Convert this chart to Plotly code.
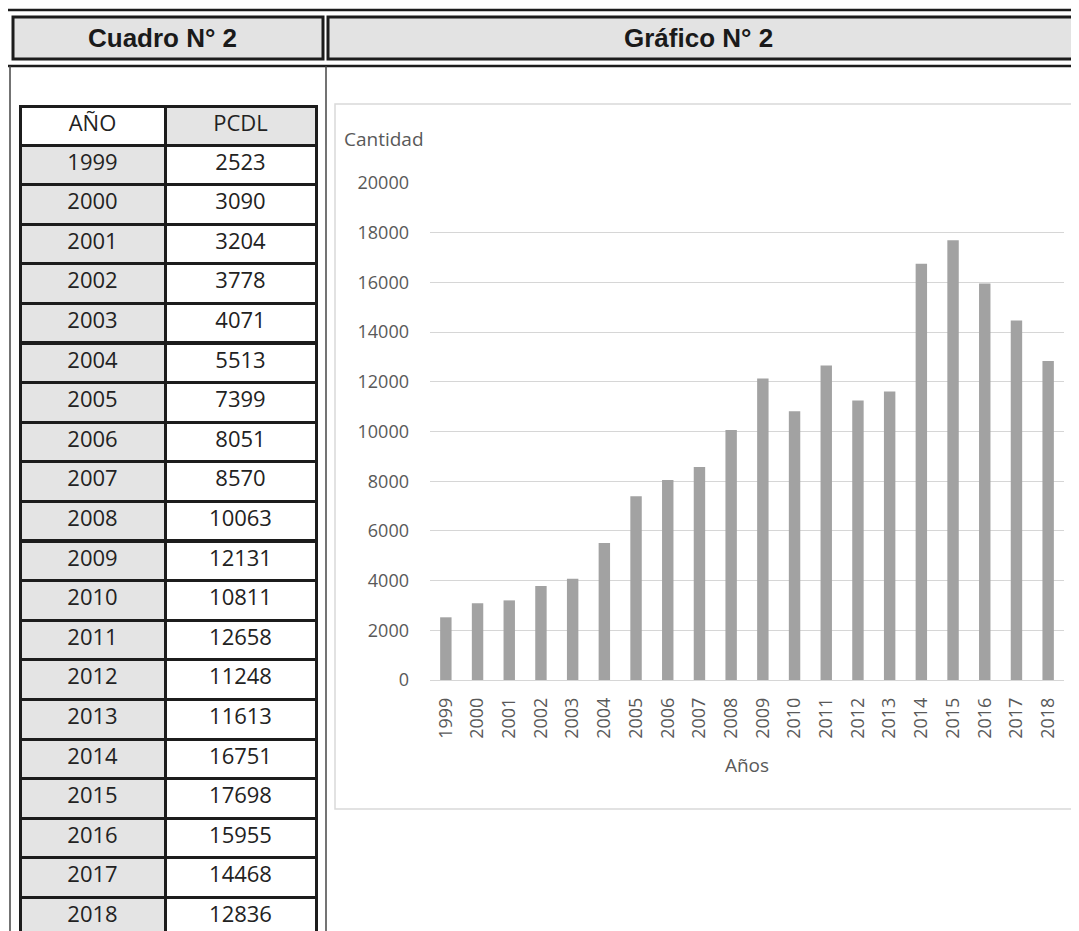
import plotly.graph_objects as go

# ---- data ----
years = ["1999", "2000", "2001", "2002", "2003", "2004", "2005", "2006", "2007", "2008",
         "2009", "2010", "2011", "2012", "2013", "2014", "2015", "2016", "2017", "2018"]
pcdl = [2523, 3090, 3204, 3778, 4071, 5513, 7399, 8051, 8570, 10063,
        12131, 10811, 12658, 11248, 11613, 16751, 17698, 15955, 14468, 12836]
table_headers = ["AÑO", "PCDL"]
y_ticks = [0, 2000, 4000, 6000, 8000, 10000, 12000, 14000, 16000, 18000, 20000]
left_title = "Cuadro N° 2"
right_title = "Gráfico N° 2"
y_title = "Cantidad"
x_title = "Años"

W, H = 1079, 931
OFF = 8  # page body margin


def px(x):
    return (x - OFF) / W


def py(y):
    return 1 - (y - OFF) / H


BLACK = "#1c1c1c"
GRAY_FILL = "#e4e4e4"
TXT_GRAY = "#595959"

fig = go.Figure()

# ---- table ----
fig.add_trace(go.Table(
    domain=dict(x=[px(20), px(316)], y=[0, py(106)]),
    columnwidth=[145, 151],
    header=dict(
        values=table_headers,
        fill_color=[["white"], [GRAY_FILL]],
        line=dict(color=BLACK, width=3),
        align="center",
        height=39,
        font=dict(family="Open Sans", size=22, color="#222222"),
    ),
    cells=dict(
        values=[years, [str(v) for v in pcdl]],
        fill_color=[[GRAY_FILL] * len(years), ["white"] * len(years)],
        line=dict(color=BLACK, width=3),
        align="center",
        height=39.6,
        font=dict(family="Open Sans", size=22, color="#222222"),
    ),
))

# ---- bar chart ----
fig.add_trace(go.Bar(
    x=years, y=pcdl,
    marker=dict(color="#a2a2a2", line=dict(width=0)),
    xaxis="x", yaxis="y",
    hoverinfo="x+y",
))

fig.update_layout(
    width=W, height=H,
    margin=dict(l=0, r=0, t=0, b=0, pad=0, autoexpand=False),
    paper_bgcolor="white",
    plot_bgcolor="white",
    showlegend=False,
    bargap=0.64,
    xaxis=dict(
        domain=[px(430), px(1064)],
        anchor="y",
        type="category",
        tickangle=-90,
        showgrid=False,
        showline=False,
        ticks="",
        automargin=False,
        ticklabelstandoff=13,
        tickfont=dict(family="Open Sans", size=18, color=TXT_GRAY),
        title=dict(text=x_title, font=dict(family="Open Sans", size=19, color=TXT_GRAY), standoff=20),
    ),
    yaxis=dict(
        domain=[py(680), py(183)],
        anchor="x",
        range=[0, 20000],
        tickvals=y_ticks,
        tickformat="d",
        showgrid=True,
        gridcolor="#d6d6d6",
        gridwidth=1,
        zeroline=True,
        zerolinecolor="#d6d6d6",
        zerolinewidth=1,
        showline=False,
        ticks="",
        automargin=False,
        ticklabelstandoff=20,
        tickfont=dict(family="Open Sans", size=18, color=TXT_GRAY),
    ),
)

shapes = []
# outer header frame
shapes.append(dict(type="rect", xref="paper", yref="paper",
                   x0=px(6), x1=px(1095), y0=py(66), y1=py(10),
                   line=dict(color=BLACK, width=2.5), fillcolor="white", layer="below"))
# header boxes
shapes.append(dict(type="rect", xref="paper", yref="paper",
                   x0=px(13), x1=px(323), y0=py(59), y1=py(17),
                   line=dict(color=BLACK, width=3), fillcolor="#e3e3e3", layer="below"))
shapes.append(dict(type="rect", xref="paper", yref="paper",
                   x0=px(328), x1=px(1095), y0=py(59), y1=py(17),
                   line=dict(color=BLACK, width=3), fillcolor="#e3e3e3", layer="below"))
# vertical panel lines
shapes.append(dict(type="line", xref="paper", yref="paper",
                   x0=px(10), x1=px(10), y0=py(66), y1=py(945),
                   line=dict(color="#444444", width=1.5), layer="below"))
shapes.append(dict(type="line", xref="paper", yref="paper",
                   x0=px(326), x1=px(326), y0=py(66), y1=py(945),
                   line=dict(color="#444444", width=1.5), layer="below"))
# chart area border
shapes.append(dict(type="rect", xref="paper", yref="paper",
                   x0=px(335), x1=px(1095), y0=py(809), y1=py(104),
                   line=dict(color="#d9d9d9", width=1.5), fillcolor="rgba(0,0,0,0)", layer="below"))

annotations = [
    dict(text="<b>" + left_title + "</b>", xref="paper", yref="paper", x=px(162), y=py(38),
         showarrow=False, xanchor="center", yanchor="middle",
         font=dict(family="Liberation Sans", size=26, color="#1a1a1a")),
    dict(text="<b>" + right_title + "</b>", xref="paper", yref="paper", x=px(698), y=py(38),
         showarrow=False, xanchor="center", yanchor="middle",
         font=dict(family="Liberation Sans", size=26, color="#1a1a1a")),
    dict(text=y_title, xref="paper", yref="paper", x=px(342), y=py(139),
         showarrow=False, xanchor="left", yanchor="middle",
         font=dict(family="Open Sans", size=19, color=TXT_GRAY)),
]

fig.update_layout(shapes=shapes, annotations=annotations)

fig.write_html("out.html")
